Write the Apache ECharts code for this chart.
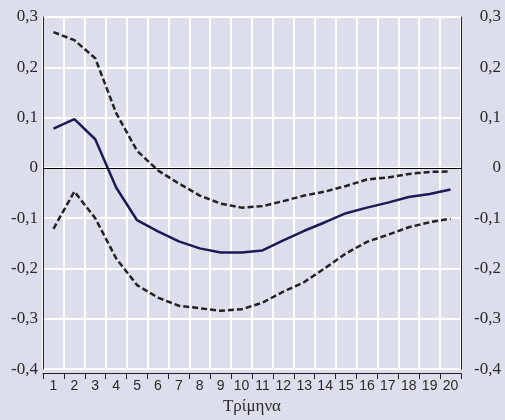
<!DOCTYPE html>
<html>
<head>
<meta charset="utf-8">
<script src="https://cdn.jsdelivr.net/npm/echarts@6/dist/echarts.min.js"></script>
<style>
  html, body { margin: 0; padding: 0; background: #dddeec; }
  #chart { width: 505px; height: 420px; }
</style>
</head>
<body>
<div id="chart"></div>
<script>
// Quarters after the shock
const quarters = ['1','2','3','4','5','6','7','8','9','10','11','12','13','14','15','16','17','18','19','20'];

// Impulse response (solid) and its confidence band (dashed)
const response = [0.078, 0.097, 0.057, -0.039, -0.104, -0.126, -0.146, -0.160, -0.168, -0.168,
                  -0.164, -0.144, -0.125, -0.108, -0.090, -0.079, -0.069, -0.058, -0.052, -0.043];
const upperBand = [0.270, 0.254, 0.218, 0.109, 0.034, -0.005, -0.031, -0.055, -0.071, -0.079,
                   -0.076, -0.066, -0.055, -0.047, -0.036, -0.023, -0.019, -0.012, -0.008, -0.007];
const lowerBand = [-0.121, -0.047, -0.100, -0.180, -0.233, -0.258, -0.274, -0.279, -0.284, -0.281,
                   -0.268, -0.246, -0.227, -0.199, -0.170, -0.147, -0.133, -0.118, -0.108, -0.101];

const yMin = -0.4, yMax = 0.3, yStep = 0.1;
const xTitle = 'Τρίμηνα';

const fmt = v => {
  const r = Math.round(v * 10) / 10;
  return r === 0 ? '0' : r.toFixed(1).replace('.', ',');
};

const serif = '"Liberation Serif", "DejaVu Serif", serif';
const sans = '"Liberation Sans", Arial, sans-serif';

const chart = echarts.init(document.getElementById('chart'), null, { renderer: 'canvas' });

const yLabel = { color: '#2a2a2a', fontFamily: serif, fontSize: 17, formatter: fmt };

chart.setOption({
  backgroundColor: '#dddeec',
  animation: false,
  grid: { left: 43, right: 44, top: 17, bottom: 45 },
  xAxis: {
    type: 'category',
    data: quarters,
    boundaryGap: true,
    offset: 4,
    axisLine: { show: true, onZero: false, lineStyle: { color: '#222', width: 1 } },
    axisTick: { show: true, length: 6, interval: 0, lineStyle: { color: '#222', width: 1 } },
    axisLabel: { interval: 0, margin: 6, color: '#2a2a2a', fontFamily: sans, fontSize: 14 },
    splitLine: { show: true, interval: 0, lineStyle: { color: '#ffffff', width: 2 } },
    name: xTitle,
    nameLocation: 'middle',
    nameGap: 24,
    nameTextStyle: { color: '#2a2a2a', fontFamily: serif, fontSize: 17 }
  },
  yAxis: [
    {
      type: 'value', min: yMin, max: yMax, interval: yStep, position: 'left',
      axisLine: { show: true, onZero: false, lineStyle: { color: '#222', width: 1 } },
      axisTick: { show: false },
      axisLabel: Object.assign({ margin: 5 }, yLabel),
      splitLine: { show: true, lineStyle: { color: '#ffffff', width: 2 } }
    },
    {
      type: 'value', min: yMin, max: yMax, interval: yStep, position: 'right',
      axisLine: { show: true, onZero: false, lineStyle: { color: '#222', width: 1 } },
      axisTick: { show: false },
      axisLabel: Object.assign({ margin: 40, align: 'right' }, yLabel),
      splitLine: { show: false }
    }
  ],
  series: [
    {
      type: 'line', data: upperBand, symbol: 'none', silent: true,
      lineStyle: { color: '#222', width: 2.5, type: [6, 3] },
      markLine: {
        silent: true, symbol: 'none', label: { show: false },
        lineStyle: { color: '#000', width: 1, type: 'solid' },
        data: [{ yAxis: 0 }]
      }
    },
    {
      type: 'line', data: lowerBand, symbol: 'none', silent: true,
      lineStyle: { color: '#222', width: 2.5, type: [6, 3] }
    },
    {
      type: 'line', data: response, symbol: 'none', silent: true, z: 3,
      lineStyle: { color: '#1c1a55', width: 2.5 }
    }
  ]
});
</script>
</body>
</html>
